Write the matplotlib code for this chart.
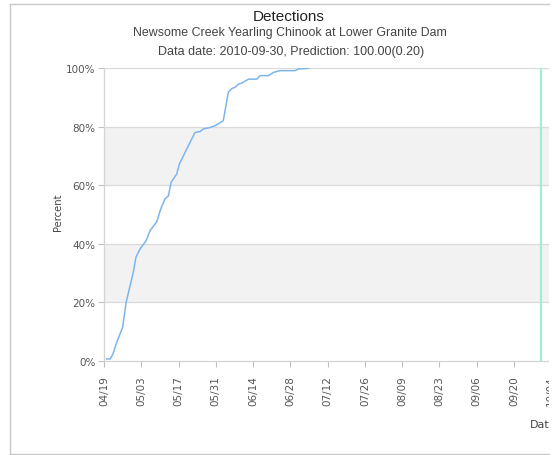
import matplotlib.pyplot as plt
import matplotlib.dates as mdates
import numpy as np
import pandas as pd
from matplotlib.lines import Line2D
from matplotlib.patches import Rectangle

# cumulative detections, days after 2010-04-19 vs percent
start = pd.Timestamp('2010-04-19')
days = [1.0, 2.3, 3.3, 4.8, 6.0, 7.0, 8.3, 9.8, 11.0, 12.0, 13.5, 15.8, 17.3, 19.8,
        21.3, 22.9, 24.2, 25.2, 27.3, 28.3, 31.1, 34.2, 36.1, 37.3, 39.8, 41.7,
        44.8, 46.7, 48.0, 49.2, 50.5, 51.8, 54.3, 57.4, 58.6, 61.8, 63.6, 66.2,
        71.8, 73.0, 76.8]
pct = [0.7, 0.7, 2.3, 6.4, 9.2, 11.5, 20.0, 25.7, 30.3, 35.4, 38.2, 41.0, 44.5, 47.5,
       51.9, 55.3, 56.4, 61.0, 63.8, 67.2, 72.4, 78.0, 78.3, 79.2, 79.7, 80.3,
       82.0, 91.7, 93.0, 93.4, 94.5, 94.9, 96.2, 96.2, 97.4, 97.4, 98.5, 99.1,
       99.1, 99.7, 99.9]
data_date = pd.Timestamp('2010-09-30')
bands = [(20, 40), (60, 80)]

dates = [start + pd.Timedelta(days=d) for d in days]

W, H = 557, 456
fig = plt.figure(figsize=(W / 100, H / 100), dpi=100)

# plot area runs off the right edge of the picture
left, right, top, bottom = 104, 640, 69, 362
ax = fig.add_axes([left / W, 1 - bottom / H, (right - left) / W, (bottom - top) / H])
px_per_day = 410 / 154
ax.set_xlim(start, start + pd.Timedelta(days=(right - left) / px_per_day))
ax.set_ylim(0, 100)

for lo, hi in bands:
    ax.axhspan(lo, hi, color='#f2f2f2', zorder=0, lw=0)
for yv in [20, 40, 60, 80, 100]:
    ax.axhline(yv, color='#dadada', lw=0.9, zorder=1)

ax.plot(dates, pct, color='#7cb5ec', lw=1.1, zorder=3)
ax.axvline(data_date, color='#9ef0cf', lw=1.6, zorder=2)

ticks = [start + pd.Timedelta(days=14 * i) for i in range(13)]
ax.set_xticks(ticks)
ax.xaxis.set_major_formatter(mdates.DateFormatter('%m/%d'))
ax.set_yticks([0, 20, 40, 60, 80, 100])
ax.set_yticklabels(['0%', '20%', '40%', '60%', '80%', '100%'])
ax.tick_params(axis='x', rotation=90, labelsize=7.5, labelcolor='#555555',
               color='#c0c0c0', length=4, pad=6)
ax.tick_params(axis='y', labelsize=7.5, labelcolor='#555555',
               color='#c0c0c0', length=4, pad=2)

for s in ['top', 'right']:
    ax.spines[s].set_visible(False)
for s in ['left', 'bottom']:
    ax.spines[s].set_color('#d4d4d4')
    ax.spines[s].set_linewidth(0.9)

fig.text(58 / W, 1 - 212 / H, 'Percent', rotation=90, fontsize=7.2,
         color='#444444', ha='center', va='center')
fig.text(530 / W, 1 - 425 / H, 'Date', fontsize=8, color='#444444',
         ha='left', va='center')

fig.text(288.5 / W, 1 - 17 / H, 'Detections', fontsize=11, color='#222222',
         ha='center', va='center', family='Liberation Sans')
fig.text(290 / W, 1 - 33 / H, 'Newsome Creek Yearling Chinook at Lower Granite Dam',
         fontsize=8.9, color='#444444', ha='center', va='center',
         family='Liberation Sans')
fig.text(291.5 / W, 1 - 52 / H, 'Data date: 2010-09-30, Prediction: 100.00(0.20)',
         fontsize=9.0, color='#444444', ha='center', va='center',
         family='Liberation Sans')

# clip at the frame edge and draw the frame
fig.add_artist(Rectangle((549 / W, 0), 1, 1, transform=fig.transFigure,
                         facecolor='white', edgecolor='none', zorder=10))
fx0, fx1 = 10 / W, 549 / W
fy0, fy1 = 1 - 455 / H, 1 - 5 / H
for xs, ys in [([fx0, fx1], [fy1, fy1]), ([fx0, fx1], [fy0, fy0]), ([fx0, fx0], [fy0, fy1])]:
    fig.add_artist(Line2D(xs, ys, transform=fig.transFigure, color='#c8c8c8',
                          lw=1.0, zorder=11))

fig.savefig('out.png', dpi=100)
